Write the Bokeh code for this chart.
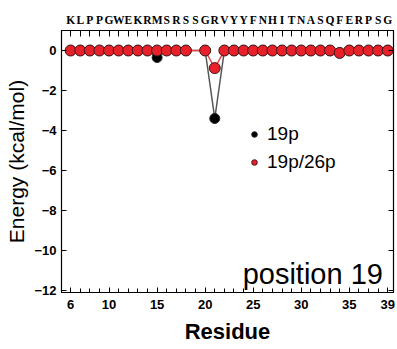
from bokeh.plotting import figure
from bokeh.models import (LinearAxis, FixedTicker, Range1d, Legend, LegendItem, Label)
from bokeh.embed import file_html
from bokeh.resources import INLINE

residues = [6, 7, 8, 9, 10, 11, 12, 13, 14, 15, 16, 17, 18, 20, 21, 22, 23, 24, 25, 26,
            27, 28, 29, 30, 31, 32, 33, 34, 35, 36, 37, 38, 39]
energy_19p = [0, 0, 0, 0, 0, 0, 0, 0, 0, -0.35, 0, 0, 0, 0, -3.4, 0, 0, 0, 0, 0,
              0, 0, 0, 0, 0, 0, 0, -0.12, 0, 0, 0, 0, 0]
energy_19p26p = [0, 0, 0, 0, 0, 0, 0, 0, 0, 0, 0, 0, 0, 0, -0.88, 0, 0, 0, 0, 0,
                 0, 0, 0, 0, 0, 0, 0, -0.12, 0, 0, 0, 0, 0]
sequence = "KLPPGWEKRMSRSSGRVYYFNHITNASQFERPSG"
seq_positions = list(range(6, 40))
x_ticks = [6, 10, 15, 20, 25, 30, 35, 39]
y_ticks = [0, -2, -4, -6, -8, -10, -12]

p = figure(width=397, height=349, output_backend="svg", toolbar_location=None,
           x_range=Range1d(5.05, 39.6), y_range=Range1d(-12.1, 1.0),
           min_border_left=61, min_border_right=4, min_border_top=30, min_border_bottom=57)
p.xgrid.visible = False
p.ygrid.visible = False
p.outline_line_color = "black"
p.outline_line_width = 1.2
p.background_fill_color = "white"
p.border_fill_color = "white"

font = "Liberation Sans"

# bottom axis
xa = p.xaxis[0]
xa.ticker = FixedTicker(ticks=x_ticks, minor_ticks=seq_positions)
xa.major_tick_in = 5
xa.major_tick_out = 0
xa.minor_tick_in = 4
xa.minor_tick_out = 0
xa.major_label_text_font = font
xa.major_label_text_font_style = "bold"
xa.major_label_text_font_size = "13px"
xa.major_label_text_color = "black"
xa.major_label_standoff = 7
xa.axis_label = "Residue"
xa.axis_label_text_font = font
xa.axis_label_text_font_style = "bold"
xa.axis_label_text_font_size = "22px"
xa.axis_label_text_color = "black"
xa.axis_label_standoff = 7
xa.axis_line_color = "black"

ya = p.yaxis[0]
ya.ticker = FixedTicker(ticks=y_ticks, minor_ticks=[])
ya.major_tick_in = 5
ya.major_tick_out = 0
ya.major_label_text_font = font
ya.major_label_text_font_style = "bold"
ya.major_label_text_font_size = "13px"
ya.major_label_text_color = "black"
ya.major_label_standoff = 5
ya.axis_label = "Energy (kcal/mol)"
ya.axis_label_text_font = font
ya.axis_label_text_font_style = "normal"
ya.axis_label_text_font_size = "21px"
ya.axis_label_text_color = "black"
ya.axis_label_standoff = 3

# top axis with sequence letters
top = LinearAxis(ticker=FixedTicker(ticks=seq_positions, minor_ticks=[]))
top.major_label_overrides = {pos: ch for pos, ch in zip(seq_positions, sequence)}
top.major_tick_in = 6
top.major_tick_out = 0
top.major_label_text_font = "Liberation Serif"
top.major_label_text_font_size = "11.5px"
top.major_label_text_font_style = "bold"
top.major_label_text_color = "black"
top.major_label_standoff = 5
p.add_layout(top, "above")

# right axis ticks only
right = LinearAxis(ticker=FixedTicker(ticks=y_ticks, minor_ticks=[]))
right.major_tick_in = 5
right.major_tick_out = 0
right.major_label_overrides = {t: "" for t in y_ticks}
right.major_label_text_font_size = "1px"
p.add_layout(right, "right")

l1 = p.line(residues, energy_19p, line_color="#555555", line_width=1.5)
c1 = p.scatter(residues, energy_19p, size=10, fill_color="black", line_color="#222222")
l2 = p.line(residues, energy_19p26p, line_color="#e8454a", line_width=1.5)
c2 = p.scatter(residues, energy_19p26p, size=11, fill_color="#e8202a", line_color="#3a1a1a", line_width=1)

legend = Legend(items=[LegendItem(label="19p", renderers=[c1]),
                       LegendItem(label="19p/26p", renderers=[c2])],
                location=(186, 119), border_line_color=None, background_fill_alpha=0,
                label_text_font=font, label_text_font_size="19px", label_text_color="black",
                glyph_width=14, glyph_height=14, spacing=6, label_standoff=6, padding=0,
                margin=0)
p.add_layout(legend, "center")

lab = Label(x=38.5, y=-11.15, text="position 19", text_align="right", text_baseline="alphabetic",
            text_font=font, text_font_size="29px", text_color="black")
p.add_layout(lab)

open("out.html", "w").write(file_html(p, INLINE))
